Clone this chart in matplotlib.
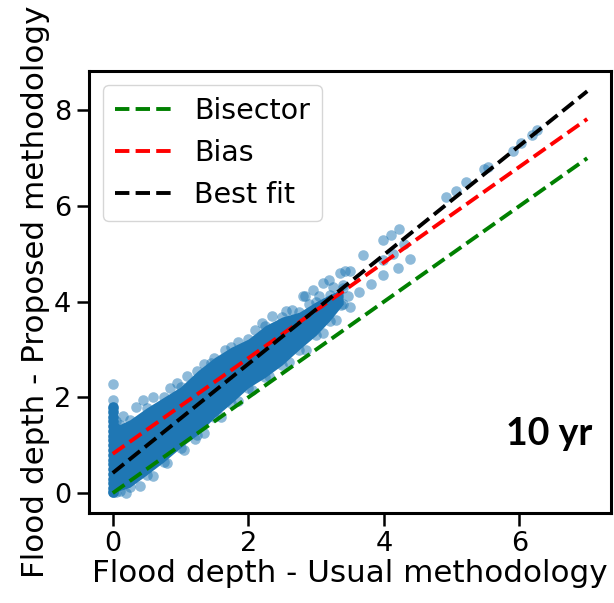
import matplotlib
matplotlib.use("Agg")
import matplotlib.pyplot as plt

# Dense body of the scatter: lower / upper envelope of the point cloud
core_x = [0.0, 0.05, 0.1, 0.25, 0.5, 0.75, 1.0, 1.25, 1.5, 1.75, 2.0, 2.25, 2.5, 2.75, 3.0, 3.2, 3.4]
core_hi = [1.75, 1.5, 1.43, 1.53, 1.78, 2.0, 2.22, 2.55, 2.83, 3.05, 3.22, 3.5, 3.68, 3.78, 4.0, 4.15, 4.28]
core_lo = [0.02, 0.02, 0.05, 0.12, 0.38, 0.65, 0.95, 1.22, 1.58, 1.88, 2.2, 2.42, 2.68, 3.0, 3.3, 3.6, 3.95]

# Points along the vertical strip at zero usual depth
strip_y = [0.02, 0.1, 0.2, 0.3, 0.4, 0.5, 0.6, 0.7, 0.8, 0.9, 1.0, 1.1, 1.2, 1.3, 1.4,
           1.5, 1.6, 1.7, 1.8]

# Loose points around the edges of the dense body
fringe_x = [0.15, 0.35, 0.45, 0.6, 0.85, 0.95, 1.1, 1.35, 1.45, 1.65, 1.85, 2.1, 2.2, 2.35, 2.55,
            2.65, 2.9, 3.05, 3.25, 3.4,
            0.2, 0.4, 0.6, 0.8, 1.05, 1.35, 1.6, 1.85, 2.05, 2.3, 2.6, 2.85, 3.1, 3.3, 3.5]
fringe_y = [1.62, 1.8, 1.95, 2.0, 2.2, 2.3, 2.45, 2.7, 2.72, 3.0, 3.15, 3.4, 3.55, 3.7, 3.8,
            3.83, 3.95, 4.12, 4.3, 4.35,
            0.0, 0.15, 0.35, 0.62, 0.9, 1.25, 1.6, 1.92, 2.15, 2.45, 2.75, 3.0, 3.35, 3.62, 3.9]

# Sparse points outside the dense body
out_x = [6.26, 6.19, 6.02, 5.90, 5.53, 5.48, 5.21, 5.06, 4.92, 4.23, 4.11, 3.99, 4.30, 4.38,
         4.21, 4.13, 3.99, 3.99, 3.81, 3.69, 3.64, 3.42, 3.35, 3.19, 3.10, 2.96, 2.81, 3.37,
         3.47, 1.22, 0.0, 0.0, 2.83, 3.50]
out_y = [7.59, 7.48, 7.31, 7.16, 6.81, 6.78, 6.50, 6.32, 6.18, 5.52, 5.39, 5.29, 5.20, 4.90,
         4.71, 4.99, 4.88, 4.55, 4.38, 4.97, 4.20, 4.64, 4.60, 4.45, 4.39, 4.24, 4.11, 3.94,
         4.11, 1.13, 2.29, 1.94, 4.11, 4.64]

# Reference lines
line_x = [0.0, 7.0]
bisector_y = [0.0, 7.0]
bias_y = [0.82, 7.82]
fit_y = [0.42, 8.40]

labels = ["Bisector", "Bias", "Best fit"]
xticks = [0, 2, 4, 6]
yticks = [0, 2, 4, 6, 8]

blue = "#1f77b4"
msize = 58

fig = plt.figure(figsize=(6.14, 6.03), dpi=100)
ax = fig.add_axes([0.145, 0.149, 0.850, 0.733])

ax.fill_between(core_x, core_lo, core_hi, color=blue, lw=0, zorder=1)
ax.scatter(core_x, core_hi, s=msize, color=blue, alpha=0.5, lw=0, zorder=1)
ax.scatter(core_x, core_lo, s=msize, color=blue, alpha=0.5, lw=0, zorder=1)
ax.scatter([0.0] * len(strip_y), strip_y, s=msize, color=blue, alpha=1.0, lw=0, zorder=1)
ax.scatter(fringe_x, fringe_y, s=msize, color=blue, alpha=0.5, lw=0, zorder=1)
ax.scatter(out_x, out_y, s=msize, color=blue, alpha=0.5, lw=0, zorder=1)

ax.plot(line_x, bisector_y, "--", color="green", lw=2.8, label=labels[0], zorder=3)
ax.plot(line_x, bias_y, "--", color="red", lw=2.8, label=labels[1], zorder=3)
ax.plot(line_x, fit_y, "--", color="black", lw=2.8, label=labels[2], zorder=3)

ax.set_xlim(-0.35, 7.35)
ax.set_ylim(-0.42, 8.82)
ax.set_xticks(xticks)
ax.set_yticks(yticks)
ax.tick_params(labelsize=19.5, length=9, width=1.8, pad=4)
for sp in ax.spines.values():
    sp.set_linewidth(2.2)

ax.set_xlabel("Flood depth - Usual methodology", fontsize=22.3, labelpad=1)
ax.set_ylabel("Flood depth - Proposed methodology", fontsize=22.3, labelpad=3)

ax.legend(loc="upper left", fontsize=20.5)

ax.text(0.9636, 0.1538, "10 yr", transform=ax.transAxes, ha="right", va="baseline",
        fontsize=27, fontweight="bold", family="Lato")

fig.savefig("out.png", dpi=100)
